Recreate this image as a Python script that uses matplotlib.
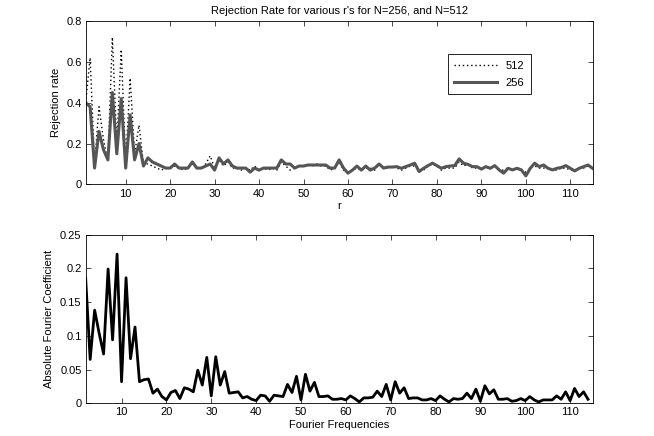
import matplotlib
matplotlib.use("Agg")
import matplotlib.pyplot as plt
import numpy as np

plt.rcParams["font.family"] = ["Liberation Sans Narrow", "Liberation Sans", "DejaVu Sans"]
plt.rcParams["font.size"] = 8

# rejection rate vs r (r = 1..115)
r = np.arange(1, 116)
rate_256 = [
    0.40, 0.38, 0.08, 0.26, 0.17, 0.12, 0.45, 0.15, 0.42, 0.08,
    0.34, 0.12, 0.20, 0.09, 0.13, 0.11, 0.10, 0.09, 0.08, 0.08,
    0.10, 0.08, 0.08, 0.08, 0.11, 0.08, 0.08, 0.09, 0.10, 0.07,
    0.13, 0.10, 0.12, 0.09, 0.08, 0.08, 0.08, 0.06, 0.08, 0.07,
    0.08, 0.08, 0.08, 0.08, 0.12, 0.10, 0.10, 0.08, 0.09, 0.09,
    0.095, 0.095, 0.095, 0.095, 0.095, 0.08, 0.08, 0.12, 0.08, 0.055,
    0.07, 0.09, 0.07, 0.09, 0.07, 0.08, 0.10, 0.08, 0.085, 0.085,
    0.087, 0.079, 0.087, 0.095, 0.104, 0.063, 0.079, 0.092, 0.104, 0.092,
    0.079, 0.087, 0.090, 0.092, 0.125, 0.104, 0.098, 0.087, 0.087, 0.075,
    0.087, 0.079, 0.092, 0.071, 0.055, 0.079, 0.071, 0.079, 0.071, 0.042,
    0.079, 0.104, 0.087, 0.095, 0.079, 0.071, 0.079, 0.083, 0.092, 0.079,
    0.066, 0.079, 0.087, 0.095, 0.079,
]
rate_512 = [
    0.40, 0.62, 0.10, 0.38, 0.22, 0.11, 0.72, 0.20, 0.66, 0.10,
    0.52, 0.15, 0.29, 0.10, 0.10, 0.09, 0.08, 0.07, 0.08, 0.08,
    0.09, 0.08, 0.07, 0.08, 0.10, 0.08, 0.08, 0.10, 0.14, 0.08,
    0.12, 0.09, 0.11, 0.08, 0.08, 0.07, 0.08, 0.07, 0.09, 0.07,
    0.08, 0.07, 0.08, 0.07, 0.11, 0.09, 0.07, 0.08, 0.09, 0.09,
    0.10, 0.09, 0.10, 0.09, 0.09, 0.07, 0.08, 0.11, 0.07, 0.06,
    0.07, 0.08, 0.07, 0.08, 0.08, 0.07, 0.10, 0.08, 0.08, 0.09,
    0.08, 0.07, 0.08, 0.09, 0.09, 0.07, 0.07, 0.09, 0.10, 0.09,
    0.07, 0.08, 0.08, 0.08, 0.11, 0.09, 0.10, 0.08, 0.08, 0.08,
    0.08, 0.08, 0.09, 0.07, 0.07, 0.08, 0.07, 0.08, 0.07, 0.06,
    0.08, 0.09, 0.08, 0.08, 0.08, 0.07, 0.07, 0.08, 0.08, 0.07,
    0.07, 0.08, 0.08, 0.09, 0.08,
]

# absolute fourier coefficients (freq = 2..114)
freq = np.arange(2, 115)
fourier = [
    0.185, 0.065, 0.138, 0.104, 0.073, 0.199, 0.094, 0.221, 0.032, 0.186,
    0.066, 0.113, 0.032, 0.035, 0.036, 0.015, 0.021, 0.010, 0.005, 0.016,
    0.019, 0.007, 0.023, 0.021, 0.017, 0.049, 0.027, 0.068, 0.011, 0.069,
    0.027, 0.047, 0.015, 0.016, 0.017, 0.008, 0.010, 0.006, 0.004, 0.012,
    0.011, 0.003, 0.012, 0.011, 0.010, 0.028, 0.016, 0.040, 0.005, 0.043,
    0.018, 0.031, 0.010, 0.010, 0.011, 0.006, 0.006, 0.007, 0.005, 0.011,
    0.007, 0.002, 0.008, 0.008, 0.009, 0.018, 0.010, 0.028, 0.005, 0.032,
    0.015, 0.023, 0.007, 0.008, 0.008, 0.005, 0.005, 0.007, 0.004, 0.011,
    0.006, 0.002, 0.007, 0.006, 0.007, 0.015, 0.007, 0.021, 0.003, 0.026,
    0.014, 0.020, 0.006, 0.006, 0.007, 0.003, 0.004, 0.007, 0.004, 0.010,
    0.005, 0.002, 0.005, 0.005, 0.005, 0.011, 0.006, 0.017, 0.004, 0.022,
    0.010, 0.017, 0.006,
]

fig = plt.figure(figsize=(6.54, 4.36), dpi=100, facecolor="white")
ax1 = fig.add_axes([0.131, 0.577, 0.775, 0.375])
ax2 = fig.add_axes([0.131, 0.075, 0.775, 0.387])

for ax in (ax1, ax2):
    ax.tick_params(direction="in", top=True, right=True, length=3.5, width=0.5, labelsize=8, pad=3)
    for s in ax.spines.values():
        s.set_linewidth(0.6)

# top: rejection rates
ax1.plot(r, rate_512, color="black", linestyle=(0, (1, 2)), linewidth=1.0, label="512")
ax1.plot(r, rate_256, color="#555555", linestyle="-", linewidth=2.2, label="256")
ax1.set_xlim(1, 115)
ax1.set_ylim(0, 0.8)
ax1.set_xticks(np.arange(10, 111, 10))
ax1.set_yticks([0, 0.2, 0.4, 0.6, 0.8])
ax1.set_yticklabels(["0", "0.2", "0.4", "0.6", "0.8"])
ax1.set_xlabel("r", labelpad=2)
ax1.set_ylabel("Rejection rate", labelpad=4)
ax1.set_title("Rejection Rate for various r's for N=256, and N=512", fontsize=8, pad=5)
leg = ax1.legend(loc="upper right", bbox_to_anchor=(0.889, 0.83), fancybox=False,
                 edgecolor="black", framealpha=1, handlelength=3.8, fontsize=8,
                 borderpad=0.6, labelspacing=0.6)
leg.get_frame().set_linewidth(0.6)

# bottom: fourier coefficients
ax2.plot(freq, fourier, color="black", linewidth=2.0)
ax2.set_xlim(2, 115)
ax2.set_ylim(0, 0.25)
ax2.set_xticks(np.arange(10, 111, 10))
ax2.set_yticks([0, 0.05, 0.1, 0.15, 0.2, 0.25])
ax2.set_yticklabels(["0", "0.05", "0.1", "0.15", "0.2", "0.25"])
ax2.set_xlabel("Fourier Frequencies", labelpad=2)
ax2.set_ylabel("Absolute Fourier Coefficient", labelpad=4)

fig.savefig("out.png", dpi=100, facecolor="white")
